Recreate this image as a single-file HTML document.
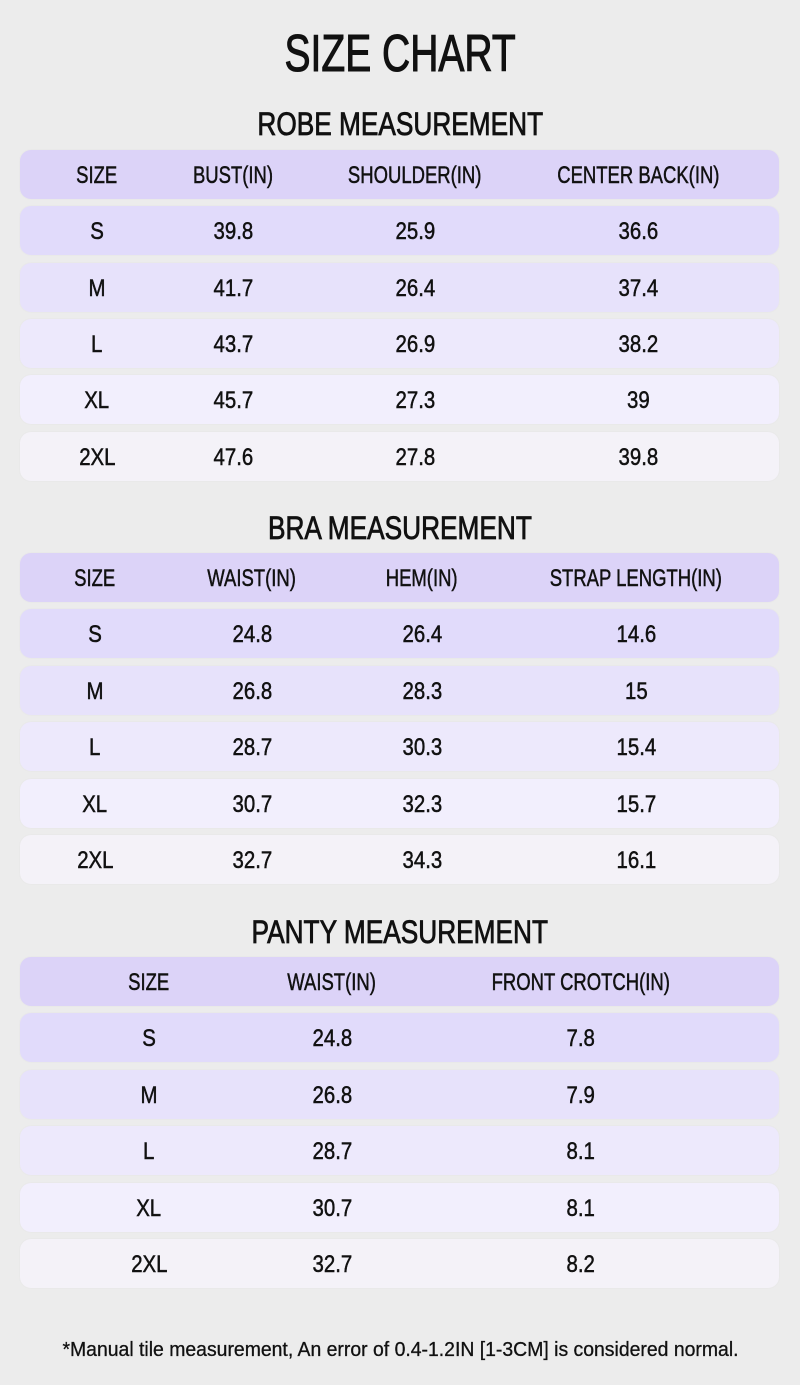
<!DOCTYPE html>
<html><head><meta charset="utf-8">
<style>
*{margin:0;padding:0;box-sizing:border-box}
html,body{width:800px;height:1385px;background:#ececec;overflow:hidden}
body{position:relative;font-family:"Liberation Sans",sans-serif;color:#111}
.t{position:absolute;left:0;width:800px;text-align:center;white-space:nowrap}
.t span{display:inline-block;-webkit-text-stroke:0.8px #111}
.main{top:28px;font-size:52px;line-height:52px}
.main span{transform:scaleX(0.75);-webkit-text-stroke:1.1px #111}
.sec{font-size:32px;line-height:32px}
.sec span{transform:scaleX(0.82)}
.box{position:absolute;left:20px;width:759px;height:49px;border-radius:11px;box-shadow:0 0 2px rgba(0,0,0,0.04)}
.c{position:absolute;top:0;width:240px;margin-left:-120px;text-align:center;font-size:24px;line-height:48px;padding-top:2px;white-space:nowrap}
.c span{display:inline-block;transform:scaleX(0.85);-webkit-text-stroke:0.5px #111}
.h .c span{transform:scaleX(0.77)}
.h{background:#dcd3f8}
.r1{background:#e1dbfb}
.r2{background:#e7e2fb}
.r3{background:#ede9fc}
.r4{background:#f2effd}
.r5{background:#f4f2f8}
.foot{top:1340px;font-size:20px;line-height:20px}
.foot span{transform:scaleX(0.97);-webkit-text-stroke:0.3px #111}
</style></head><body>

<div class="t main"><span>SIZE CHART</span></div>

<!-- ROBE -->
<div class="t sec" style="top:108px"><span>ROBE MEASUREMENT</span></div>
<div class="box h" style="top:150px"><div class="c" style="left:77px"><span>SIZE</span></div><div class="c" style="left:213px"><span>BUST(IN)</span></div><div class="c" style="left:395px"><span>SHOULDER(IN)</span></div><div class="c" style="left:618px"><span>CENTER BACK(IN)</span></div></div>
<div class="box r1" style="top:206px"><div class="c" style="left:77px"><span>S</span></div><div class="c" style="left:213px"><span>39.8</span></div><div class="c" style="left:395px"><span>25.9</span></div><div class="c" style="left:618px"><span>36.6</span></div></div>
<div class="box r2" style="top:262.5px"><div class="c" style="left:77px"><span>M</span></div><div class="c" style="left:213px"><span>41.7</span></div><div class="c" style="left:395px"><span>26.4</span></div><div class="c" style="left:618px"><span>37.4</span></div></div>
<div class="box r3" style="top:319px"><div class="c" style="left:77px"><span>L</span></div><div class="c" style="left:213px"><span>43.7</span></div><div class="c" style="left:395px"><span>26.9</span></div><div class="c" style="left:618px"><span>38.2</span></div></div>
<div class="box r4" style="top:375px"><div class="c" style="left:77px"><span>XL</span></div><div class="c" style="left:213px"><span>45.7</span></div><div class="c" style="left:395px"><span>27.3</span></div><div class="c" style="left:618px"><span>39</span></div></div>
<div class="box r5" style="top:431.5px"><div class="c" style="left:77px"><span>2XL</span></div><div class="c" style="left:213px"><span>47.6</span></div><div class="c" style="left:395px"><span>27.8</span></div><div class="c" style="left:618px"><span>39.8</span></div></div>

<!-- BRA -->
<div class="t sec" style="top:512px"><span>BRA MEASUREMENT</span></div>
<div class="box h" style="top:553px"><div class="c" style="left:75px"><span>SIZE</span></div><div class="c" style="left:232px"><span>WAIST(IN)</span></div><div class="c" style="left:402px"><span>HEM(IN)</span></div><div class="c" style="left:616px"><span>STRAP LENGTH(IN)</span></div></div>
<div class="box r1" style="top:609px"><div class="c" style="left:75px"><span>S</span></div><div class="c" style="left:232px"><span>24.8</span></div><div class="c" style="left:402px"><span>26.4</span></div><div class="c" style="left:616px"><span>14.6</span></div></div>
<div class="box r2" style="top:666px"><div class="c" style="left:75px"><span>M</span></div><div class="c" style="left:232px"><span>26.8</span></div><div class="c" style="left:402px"><span>28.3</span></div><div class="c" style="left:616px"><span>15</span></div></div>
<div class="box r3" style="top:722px"><div class="c" style="left:75px"><span>L</span></div><div class="c" style="left:232px"><span>28.7</span></div><div class="c" style="left:402px"><span>30.3</span></div><div class="c" style="left:616px"><span>15.4</span></div></div>
<div class="box r4" style="top:779px"><div class="c" style="left:75px"><span>XL</span></div><div class="c" style="left:232px"><span>30.7</span></div><div class="c" style="left:402px"><span>32.3</span></div><div class="c" style="left:616px"><span>15.7</span></div></div>
<div class="box r5" style="top:834.5px"><div class="c" style="left:75px"><span>2XL</span></div><div class="c" style="left:232px"><span>32.7</span></div><div class="c" style="left:402px"><span>34.3</span></div><div class="c" style="left:616px"><span>16.1</span></div></div>

<!-- PANTY -->
<div class="t sec" style="top:916px"><span>PANTY MEASUREMENT</span></div>
<div class="box h" style="top:957px"><div class="c" style="left:129px"><span>SIZE</span></div><div class="c" style="left:312px"><span>WAIST(IN)</span></div><div class="c" style="left:561px"><span>FRONT CROTCH(IN)</span></div></div>
<div class="box r1" style="top:1013px"><div class="c" style="left:129px"><span>S</span></div><div class="c" style="left:312px"><span>24.8</span></div><div class="c" style="left:561px"><span>7.8</span></div></div>
<div class="box r2" style="top:1069.5px"><div class="c" style="left:129px"><span>M</span></div><div class="c" style="left:312px"><span>26.8</span></div><div class="c" style="left:561px"><span>7.9</span></div></div>
<div class="box r3" style="top:1126px"><div class="c" style="left:129px"><span>L</span></div><div class="c" style="left:312px"><span>28.7</span></div><div class="c" style="left:561px"><span>8.1</span></div></div>
<div class="box r4" style="top:1182.5px"><div class="c" style="left:129px"><span>XL</span></div><div class="c" style="left:312px"><span>30.7</span></div><div class="c" style="left:561px"><span>8.1</span></div></div>
<div class="box r5" style="top:1238.5px"><div class="c" style="left:129px"><span>2XL</span></div><div class="c" style="left:312px"><span>32.7</span></div><div class="c" style="left:561px"><span>8.2</span></div></div>

<div class="t foot"><span>*Manual tile measurement, An error of 0.4-1.2IN [1-3CM] is considered normal.</span></div>

</body></html>
